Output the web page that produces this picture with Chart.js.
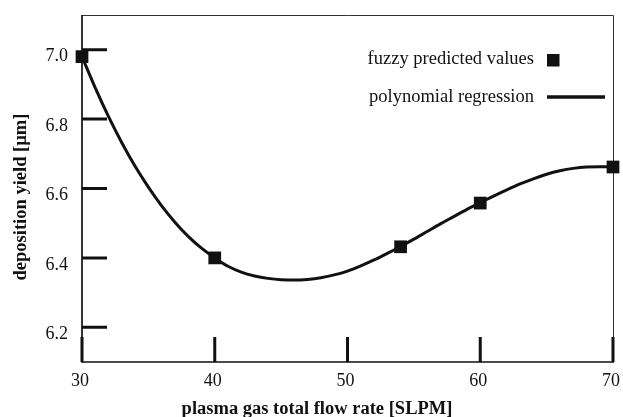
<!DOCTYPE html>
<html>
<head>
<meta charset="utf-8">
<script src="https://cdn.jsdelivr.net/npm/chart.js@4.4.1/dist/chart.umd.min.js"></script>
<style>
  html, body { margin: 0; padding: 0; background: #fff; }
  #wrap { width: 623px; height: 417px; position: relative; }
</style>
</head>
<body>
<div id="wrap"><canvas id="c"></canvas></div>
<script>
// ---- data ----
const flowRates = [30, 40, 54, 60, 70];
const fuzzyValues = [6.98, 6.40, 6.432, 6.558, 6.662];
const regressionX = [30,31,32,33,34,35,36,37,38,39,40,41,42,43,44,45,46,47,48,49,50,
                     51,52,53,54,55,56,57,58,59,60,61,62,63,64,65,66,67,68,69,70];
const regressionY = [6.980,6.890,6.807,6.732,6.664,6.604,6.550,6.503,6.462,6.428,6.400,
                     6.376,6.359,6.348,6.341,6.337,6.336,6.338,6.343,6.351,6.362,
                     6.377,6.394,6.413,6.433,6.454,6.476,6.498,6.519,6.540,6.559,
                     6.578,6.596,6.613,6.628,6.641,6.651,6.658,6.662,6.663,6.663];
const xTicks = [30, 40, 50, 60, 70];
const yTicks = [6.2, 6.4, 6.6, 6.8, 7.0];
const seriesNames = ['fuzzy predicted values', 'polynomial regression'];
const xTitle = 'plasma gas total flow rate [SLPM]';
const yTitle = 'deposition yield [\u00b5m]';

const INK = '#111';
const FONT = "'Liberation Serif', 'Times New Roman', serif";

const decorPlugin = {
  id: 'decor',
  beforeDatasetsDraw(chart) {
    const ctx = chart.ctx;
    const a = chart.chartArea;
    const xs = chart.scales.x, ys = chart.scales.y;
    ctx.save();
    // frame: thin top/right
    ctx.strokeStyle = '#333';
    ctx.lineWidth = 1;
    ctx.beginPath();
    ctx.moveTo(a.left, a.top + 0.5);
    ctx.lineTo(a.right + 0.5, a.top + 0.5);
    ctx.lineTo(a.right + 0.5, a.bottom);
    ctx.stroke();
    // left/bottom axes
    ctx.strokeStyle = INK;
    ctx.lineWidth = 1.7;
    ctx.beginPath();
    ctx.moveTo(a.left, a.top);
    ctx.lineTo(a.left, a.bottom);
    ctx.lineTo(a.right + 1, a.bottom);
    ctx.stroke();
    // inward ticks
    ctx.lineWidth = 3;
    ctx.beginPath();
    yTicks.forEach(v => {
      const py = ys.getPixelForValue(v);
      ctx.moveTo(a.left, py);
      ctx.lineTo(a.left + 25, py);
    });
    xTicks.forEach(v => {
      const px = xs.getPixelForValue(v);
      ctx.moveTo(px, a.bottom);
      ctx.lineTo(px, a.bottom - 25);
    });
    ctx.stroke();
    ctx.restore();
  },
  afterDraw(chart) {
    const ctx = chart.ctx;
    ctx.save();
    ctx.fillStyle = INK;
    // axis titles
    ctx.font = "bold 18.5px " + FONT;
    ctx.textAlign = 'center';
    ctx.textBaseline = 'alphabetic';
    ctx.fillText(xTitle, 317, 414);
    ctx.save();
    ctx.translate(26, 197);
    ctx.rotate(-Math.PI / 2);
    ctx.fillText(yTitle, 0, 0);
    ctx.restore();
    // legend
    ctx.font = "18.5px " + FONT;
    ctx.textAlign = 'right';
    ctx.textBaseline = 'middle';
    ctx.fillText(seriesNames[0], 534, 59);
    ctx.fillText(seriesNames[1], 534, 97);
    ctx.fillRect(547, 54, 12.5, 12.5);
    ctx.strokeStyle = INK;
    ctx.lineWidth = 3.5;
    ctx.beginPath();
    ctx.moveTo(547, 97);
    ctx.lineTo(605, 97);
    ctx.stroke();
    ctx.restore();
  }
};

function noPad(s) {
  s.paddingLeft = 0; s.paddingRight = 0; s.paddingTop = 0; s.paddingBottom = 0;
}

new Chart(document.getElementById('c'), {
  type: 'scatter',
  data: {
    datasets: [
      {
        label: seriesNames[0],
        data: flowRates.map((x, i) => ({ x, y: fuzzyValues[i] })),
        showLine: false,
        pointStyle: 'rect',
        pointRadius: 9,
        pointHoverRadius: 9,
        backgroundColor: INK,
        borderColor: INK,
        borderWidth: 0,
        clip: false
      },
      {
        label: seriesNames[1],
        data: regressionX.map((x, i) => ({ x, y: regressionY[i] })),
        showLine: true,
        pointRadius: 0,
        pointHoverRadius: 0,
        borderColor: INK,
        borderWidth: 3,
        cubicInterpolationMode: 'monotone',
        fill: false,
        clip: false
      }
    ]
  },
  options: {
    responsive: true,
    maintainAspectRatio: false,
    animation: false,
    events: [],
    layout: { padding: { left: 0, top: 15, right: 10, bottom: 0 } },
    plugins: {
      legend: { display: false },
      tooltip: { enabled: false },
      title: { display: false }
    },
    scales: {
      x: {
        type: 'linear',
        min: 30, max: 70,
        afterBuildTicks: s => { s.ticks = xTicks.map(v => ({ value: v })); },
        afterFit: s => { s.height = 55; noPad(s); },
        grid: { display: false, drawTicks: false },
        border: { display: false },
        ticks: {
          color: INK,
          font: { family: FONT, size: 18 },
          padding: 8,
          labelOffset: -2,
          maxRotation: 0,
          callback: v => String(v)
        }
      },
      y: {
        type: 'linear',
        min: 6.1, max: 7.1,
        afterBuildTicks: s => { s.ticks = yTicks.map(v => ({ value: v })); },
        afterFit: s => { s.width = 82; noPad(s); },
        grid: { display: false, drawTicks: false },
        border: { display: false },
        ticks: {
          color: INK,
          font: { family: FONT, size: 18 },
          padding: 14,
          labelOffset: 7,
          callback: v => v.toFixed(1)
        }
      }
    }
  },
  plugins: [decorPlugin]
});
</script>
</body>
</html>
